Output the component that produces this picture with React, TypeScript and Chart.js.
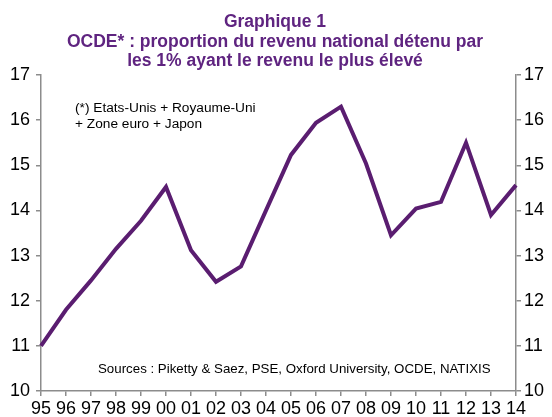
import React, { useEffect, useRef } from 'react';
import { Chart, registerables } from 'chart.js';

Chart.register(...registerables);

const categories = ['95', '96', '97', '98', '99', '00', '01', '02', '03', '04', '05', '06', '07', '08', '09', '10', '11', '12', '13', '14'];
const shareTop1 = [11.0, 11.8, 12.45, 13.15, 13.77, 14.52, 13.12, 12.42, 12.76, 14.0, 15.23, 15.94, 16.3, 15.04, 13.45, 14.04, 14.19, 15.5, 13.9, 14.56];
const yMin = 10;
const yMax = 17;
const titleLines = ['Graphique 1', 'OCDE* : proportion du revenu national détenu par', 'les 1% ayant le revenu le plus élevé'];
const noteLines = ['(*) Etats-Unis + Royaume-Uni', '+ Zone euro + Japon'];
const sourceText = 'Sources : Piketty & Saez, PSE, Oxford University, OCDE, NATIXIS';

const FONT = '"Liberation Sans", Arial, sans-serif';
const PURPLE = '#5a1d70';
const TITLE_PURPLE = '#5f2480';
const AXIS_GRAY = '#8c8c8c';

const textPlugin = {
  id: 'texts',
  afterDraw(chart: any) {
    const ctx = chart.ctx;
    const area = chart.chartArea;
    ctx.save();
    ctx.fillStyle = TITLE_PURPLE;
    ctx.font = `bold 17.5px ${FONT}`;
    ctx.textAlign = 'center';
    ctx.textBaseline = 'alphabetic';
    const cx = 275;
    titleLines.forEach((t, i) => ctx.fillText(t, cx, 27 + i * 19.7));
    ctx.fillStyle = '#000';
    ctx.font = `13.7px ${FONT}`;
    ctx.textAlign = 'left';
    noteLines.forEach((t, i) => ctx.fillText(t, area.left + 34, area.top + 37 + i * 15.5));
    ctx.font = `13.3px ${FONT}`;
    ctx.fillText(sourceText, area.left + 57, area.bottom - 18);
    ctx.restore();
  },
};

export default function App() {
  const ref = useRef<HTMLCanvasElement | null>(null);
  useEffect(() => {
    document.body.style.margin = '0';
    const canvas = ref.current;
    if (!canvas) return;
    const tickFont = { family: FONT, size: 18 };
    const chart = new Chart(canvas, {
      type: 'line',
      data: {
        labels: categories,
        datasets: [
          {
            data: shareTop1,
            borderColor: PURPLE,
            borderWidth: 4,
            pointRadius: 0,
            tension: 0,
            fill: false,
            yAxisID: 'y',
          },
        ],
      },
      options: {
        animation: false,
        responsive: false,
        maintainAspectRatio: false,
        layout: { padding: { top: 75, left: 0, right: 0, bottom: 0 } },
        plugins: { legend: { display: false }, title: { display: false }, tooltip: { enabled: false } },
        scales: {
          x: {
            offset: false,
            grid: { drawOnChartArea: false, drawTicks: true, tickLength: 5, color: AXIS_GRAY, lineWidth: 1.5 },
            border: { color: AXIS_GRAY, width: 1.5 },
            ticks: { font: { family: FONT, size: 18 }, color: '#000', maxRotation: 0, autoSkip: false, padding: 2 },
            afterFit: (s: any) => { s.height = 26; },
          },
          y: {
            position: 'left',
            min: yMin,
            max: yMax,
            grid: { drawOnChartArea: false, drawTicks: true, tickLength: 5, color: AXIS_GRAY, lineWidth: 1.5 },
            border: { color: AXIS_GRAY, width: 1.5 },
            ticks: { stepSize: 1, font: tickFont, color: '#000', padding: 6 },
            afterFit: (s: any) => { s.width = 41; },
          },
          y2: {
            position: 'right',
            min: yMin,
            max: yMax,
            grid: { drawOnChartArea: false, drawTicks: true, tickLength: 5, color: AXIS_GRAY, lineWidth: 1.5 },
            border: { color: AXIS_GRAY, width: 1.5 },
            ticks: { stepSize: 1, font: tickFont, color: '#000', padding: 3 },
            afterFit: (s: any) => { s.width = 36; },
          },
        },
      },
      plugins: [textPlugin],
    });
    return () => chart.destroy();
  }, []);
  return (
    <div style={{ width: 552, height: 417, background: '#fff' }}>
      <canvas ref={ref} width={552} height={417} style={{ display: 'block', width: 552, height: 417 }} />
    </div>
  );
}
